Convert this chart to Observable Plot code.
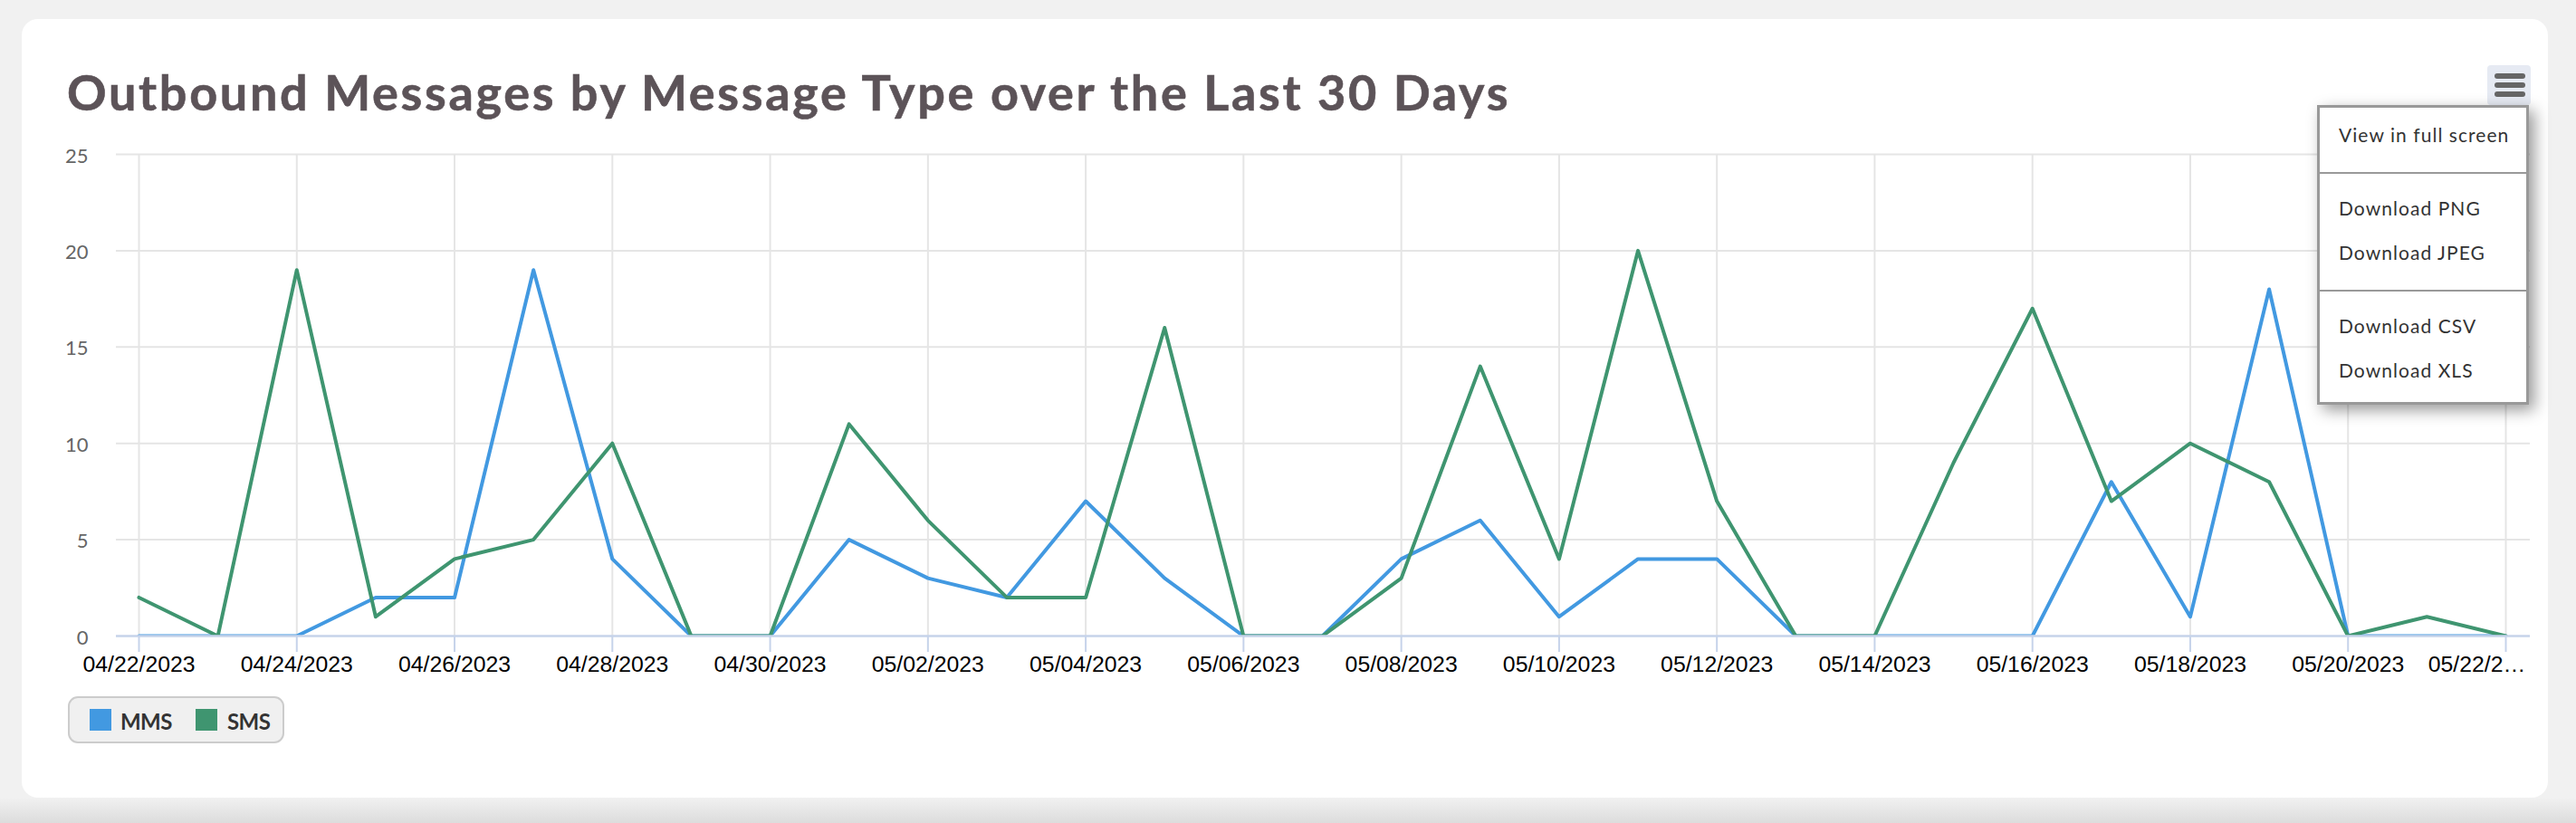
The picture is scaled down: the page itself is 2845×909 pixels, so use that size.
<!DOCTYPE html>
<html><head><meta charset="utf-8">
<script src="https://cdn.jsdelivr.net/npm/d3@7"></script>
<script src="https://cdn.jsdelivr.net/npm/@observablehq/plot@0.6"></script>
<style>
html,body{margin:0;padding:0;width:2845px;height:909px;overflow:hidden;background:#f1f1f1}
#shade{position:absolute;left:0;right:0;top:881px;height:28px;background:linear-gradient(#f1f1f1,#dcdcdc)}
#card{position:absolute;left:24px;top:21px;width:2790px;height:860px;background:#fff;border-radius:18px}
#title{position:absolute;left:74px;top:66px;margin:0;font:700 54px/72px Lato,sans-serif;letter-spacing:2.67px;-webkit-text-stroke:.6px #5c5358;color:#5c5358;white-space:nowrap}
#chart{position:absolute;left:0;top:150px}
#chart svg{display:block;background:transparent}
#legend{position:absolute;left:75px;top:769px;width:235px;height:48px;background:#f0f0f0;border:2px solid #ccc;border-radius:11px;font:700 24px/1 Lato,sans-serif;color:#333}
#legend i{position:absolute;top:12px;width:24px;height:24px}
#legend span{position:absolute;top:14px;letter-spacing:-.6px}
#btn{position:absolute;left:2747px;top:72px;width:48px;height:44px;background:#e6eaf3;border-radius:4px}
#btn b{position:absolute;left:8px;width:34px;height:6px;border-radius:3px;background:#666}
#menu{position:absolute;left:2559px;top:116px;width:228px;height:325px;background:#fff;border:3px solid #999;box-shadow:6px 6px 16px rgba(0,0,0,.4);font:400 21px/1 Lato,sans-serif;letter-spacing:1.05px;color:#333}
#menu div{position:absolute;left:21px;white-space:nowrap}
#menu hr{position:absolute;left:0;right:0;margin:0;border:0;height:2px;background:#999}
</style></head>
<body>
<div id="shade"></div>
<div id="card"></div>
<h1 id="title">Outbound Messages by Message Type over the Last 30 Days</h1>
<div id="chart"></div>
<div id="legend"></div>
<div id="btn"><b style="top:9px"></b><b style="top:19px"></b><b style="top:29px"></b></div>
<div id="menu"></div>
<script>
const days = ["2023-04-22","2023-04-23","2023-04-24","2023-04-25","2023-04-26","2023-04-27","2023-04-28","2023-04-29","2023-04-30","2023-05-01","2023-05-02","2023-05-03","2023-05-04","2023-05-05","2023-05-06","2023-05-07","2023-05-08","2023-05-09","2023-05-10","2023-05-11","2023-05-12","2023-05-13","2023-05-14","2023-05-15","2023-05-16","2023-05-17","2023-05-18","2023-05-19","2023-05-20","2023-05-21","2023-05-22"];
const mms = [0,0,0,2,2,19,4,0,0,5,3,2,7,3,0,0,4,6,1,4,4,0,0,0,0,8,1,18,0,0,0];
const sms = [2,0,19,1,4,5,10,0,0,11,6,2,2,16,0,0,3,14,4,20,7,0,0,9,17,7,10,8,0,1,0];
const yTicks = [0,5,10,15,20,25];
const xTickDays = ["2023-04-22","2023-04-24","2023-04-26","2023-04-28","2023-04-30","2023-05-02","2023-05-04","2023-05-06","2023-05-08","2023-05-10","2023-05-12","2023-05-14","2023-05-16","2023-05-18","2023-05-20","2023-05-22"];
const seriesNames = ["MMS","SMS"];
const seriesColors = ["#4299e1","#3f9570"];
const menuItems = ["View in full screen","Download PNG","Download JPEG","Download CSV","Download XLS"];

const parse = d3.utcParse("%Y-%m-%d");
const fmt = d3.utcFormat("%m/%d/%Y");
const rows = days.flatMap((d,i)=>[{date:parse(d),type:"MMS",value:mms[i]},{date:parse(d),type:"SMS",value:sms[i]}]);
const xTicks = xTickDays.map(parse);
const last = xTicks[xTicks.length-1];
const labelFont = {fontFamily:"'Liberation Sans',Arial,sans-serif",fontSize:24.8,fill:"#000"};

const plot = Plot.plot({
  width:2845, height:610,
  marginLeft:128, marginRight:51, marginTop:20, marginBottom:58,
  style:{background:"transparent"},
  x:{type:"utc",domain:[parse(days[0]),parse(days[days.length-1])],insetLeft:25,insetRight:27,axis:null},
  y:{domain:[0,25],axis:null},
  color:{domain:seriesNames,range:seriesColors},
  marks:[
    Plot.ruleY(yTicks.filter(v=>v>0),{y:d=>d,stroke:"#e5e5e5",strokeWidth:2}),
    Plot.ruleX(xTicks,{x:d=>d,y1:0,y2:25,stroke:"#e5e5e5",strokeWidth:2}),
    Plot.axisY({ticks:yTicks,tickSize:0,tickPadding:31,fontSize:22,fontFamily:"Lato,sans-serif",fontWeight:400,color:"#666",dy:2,label:null}),
    Plot.line(rows,{x:"date",y:"value",stroke:"type",z:"type",strokeWidth:4,clip:true,curve:"linear"}),
    Plot.ruleY([0],{stroke:"#c6d3ea",strokeWidth:2.5}),
    Plot.axisX({ticks:xTicks,tickSize:18,text:null,stroke:"#c6d3ea",strokeWidth:2,label:null}),
    Plot.text(xTicks.filter(d=>d!==last),{x:d=>d,text:d=>fmt(d),frameAnchor:"bottom",lineAnchor:"bottom",dy:39,...labelFont}),
    Plot.text([last],{x:d=>d,text:d=>fmt(d).slice(0,7)+"…",frameAnchor:"bottom",lineAnchor:"bottom",dy:39,dx:-32,...labelFont})
  ]
});
document.getElementById("chart").append(plot);

const legend = document.getElementById("legend");
const swatchX = [22,139], textX = [56,174];
seriesNames.forEach((n,i)=>{
  const s=document.createElement("i"); s.style.left=swatchX[i]+"px"; s.style.background=seriesColors[i]; legend.append(s);
  const t=document.createElement("span"); t.style.left=textX[i]+"px"; t.textContent=n; legend.append(t);
});
const menu = document.getElementById("menu");
const itemTops = [19,100,149,230,279];
menuItems.forEach((m,i)=>{const e=document.createElement("div"); e.style.top=itemTops[i]+"px"; e.textContent=m; menu.append(e);});
[72,202].forEach(t=>{const h=document.createElement("hr"); h.style.top=t-1+"px"; menu.append(h);});
</script>
</body></html>
